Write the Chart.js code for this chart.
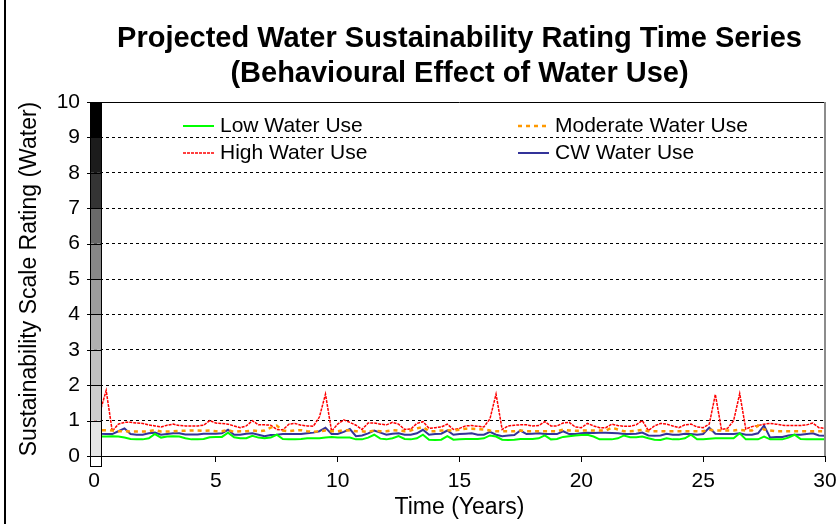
<!DOCTYPE html>
<html>
<head>
<meta charset="utf-8">
<script src="https://cdn.jsdelivr.net/npm/chart.js@4.4.0/dist/chart.umd.min.js"></script>
<style>
    body { margin: 0; background: #ffffff; }
    #wrap { width: 839px; height: 524px; }
</style>
</head>
<body>
<div id="wrap"><canvas id="waterChart" width="839" height="524"></canvas></div>
<script>
// time axis, quarter-year steps
const years = [
    0, 0.25, 0.5, 0.75, 1, 1.25, 1.5, 1.75, 2, 2.25, 2.5, 2.75, 3, 3.25, 3.5, 3.75, 4, 4.25, 4.5, 4.75, 5, 5.25, 5.5, 5.75, 6,
    6.25, 6.5, 6.75, 7, 7.25, 7.5, 7.75, 8, 8.25, 8.5, 8.75, 9, 9.25, 9.5, 9.75, 10, 10.25, 10.5, 10.75, 11, 11.25, 11.5, 11.75, 12,
    12.25, 12.5, 12.75, 13, 13.25, 13.5, 13.75, 14, 14.25, 14.5, 14.75, 15, 15.25, 15.5, 15.75, 16, 16.25, 16.5, 16.75, 17, 17.25, 17.5, 17.75, 18,
    18.25, 18.5, 18.75, 19, 19.25, 19.5, 19.75, 20, 20.25, 20.5, 20.75, 21, 21.25, 21.5, 21.75, 22, 22.25, 22.5, 22.75, 23, 23.25, 23.5, 23.75, 24,
    24.25, 24.5, 24.75, 25, 25.25, 25.5, 25.75, 26, 26.25, 26.5, 26.75, 27, 27.25, 27.5, 27.75, 28, 28.25, 28.5, 28.75, 29, 29.25, 29.5, 29.75, 30
];

const lowUse = [
    0.57, 0.55, 0.55, 0.56, 0.55, 0.52, 0.48, 0.47, 0.47, 0.50, 0.62, 0.52, 0.55, 0.56, 0.55, 0.50, 0.47, 0.47, 0.48, 0.53, 0.54, 0.54, 0.66, 0.53, 0.50,
    0.50, 0.57, 0.52, 0.50, 0.52, 0.60, 0.48, 0.47, 0.47, 0.48, 0.50, 0.50, 0.50, 0.52, 0.54, 0.52, 0.52, 0.52, 0.47, 0.47, 0.52, 0.60, 0.49, 0.47,
    0.50, 0.56, 0.48, 0.47, 0.50, 0.60, 0.46, 0.45, 0.46, 0.56, 0.46, 0.47, 0.48, 0.48, 0.48, 0.50, 0.58, 0.55, 0.46, 0.45, 0.46, 0.48, 0.48, 0.48,
    0.50, 0.58, 0.47, 0.48, 0.54, 0.56, 0.58, 0.59, 0.60, 0.55, 0.47, 0.47, 0.47, 0.50, 0.58, 0.53, 0.53, 0.55, 0.50, 0.46, 0.45, 0.50, 0.47, 0.47,
    0.50, 0.60, 0.47, 0.47, 0.49, 0.50, 0.50, 0.50, 0.50, 0.64, 0.47, 0.47, 0.47, 0.55, 0.47, 0.47, 0.47, 0.52, 0.60, 0.48, 0.47, 0.47, 0.47, 0.47
];

const moderateUse = [
    0.75, 0.73, 0.73, 0.72, 0.70, 0.70, 0.69, 0.69, 0.69, 0.70, 0.73, 0.69, 0.69, 0.70, 0.71, 0.71, 0.72, 0.72, 0.71, 0.72, 0.70, 0.70, 0.73, 0.68, 0.70,
    0.70, 0.72, 0.70, 0.72, 0.80, 0.86, 0.72, 0.70, 0.72, 0.73, 0.70, 0.68, 0.70, 0.72, 0.70, 0.70, 0.73, 0.72, 0.70, 0.70, 0.68, 0.72, 0.70, 0.70,
    0.73, 0.72, 0.70, 0.72, 0.78, 0.82, 0.70, 0.70, 0.72, 0.73, 0.72, 0.74, 0.77, 0.77, 0.76, 0.75, 0.72, 0.70, 0.70, 0.70, 0.70, 0.72, 0.70, 0.70,
    0.70, 0.70, 0.70, 0.70, 0.74, 0.72, 0.71, 0.72, 0.72, 0.72, 0.72, 0.72, 0.80, 0.75, 0.70, 0.70, 0.71, 0.74, 0.70, 0.70, 0.70, 0.70, 0.70, 0.70,
    0.70, 0.70, 0.70, 0.70, 0.74, 0.72, 0.72, 0.72, 0.72, 0.74, 0.72, 0.72, 0.86, 0.75, 0.72, 0.70, 0.70, 0.70, 0.70, 0.70, 0.70, 0.70, 0.70, 0.70
];

const highUse = [
    0.95, 1.25, 1.85, 0.70, 0.90, 0.95, 0.95, 0.93, 0.92, 0.88, 0.85, 0.82, 0.87, 0.90, 0.86, 0.85, 0.85, 0.85, 0.87, 1.00, 0.93, 0.92, 0.90, 0.85, 0.80,
    0.85, 1.00, 0.88, 0.88, 0.87, 0.75, 0.74, 0.90, 0.92, 0.87, 0.85, 0.84, 1.10, 1.75, 0.70, 0.90, 1.02, 0.95, 0.87, 0.75, 0.93, 0.93, 0.90, 0.88,
    0.95, 0.90, 0.75, 0.76, 0.92, 0.97, 0.78, 0.80, 0.82, 0.90, 0.75, 0.78, 0.85, 0.86, 0.84, 0.82, 1.05, 1.75, 0.75, 0.85, 0.87, 0.88, 0.88, 0.85,
    0.86, 0.97, 0.85, 0.85, 0.93, 0.95, 0.82, 0.80, 0.92, 0.85, 0.80, 0.80, 0.90, 0.86, 0.84, 0.84, 0.88, 1.00, 0.72, 0.85, 0.92, 0.90, 0.85, 0.80,
    0.88, 0.90, 0.82, 0.80, 0.90, 1.74, 0.75, 0.78, 1.00, 1.76, 0.76, 0.83, 0.86, 0.90, 0.92, 0.90, 0.87, 0.86, 0.86, 0.86, 0.88, 0.93, 0.80, 0.78
];

const cwUse = [
    0.68, 0.63, 0.62, 0.62, 0.70, 0.78, 0.62, 0.60, 0.60, 0.64, 0.66, 0.60, 0.62, 0.64, 0.64, 0.61, 0.61, 0.61, 0.63, 0.63, 0.63, 0.64, 0.74, 0.60, 0.60,
    0.63, 0.64, 0.60, 0.56, 0.59, 0.60, 0.62, 0.62, 0.62, 0.62, 0.64, 0.66, 0.70, 0.80, 0.62, 0.62, 0.68, 0.76, 0.56, 0.58, 0.64, 0.72, 0.66, 0.60,
    0.63, 0.64, 0.60, 0.60, 0.64, 0.74, 0.60, 0.62, 0.63, 0.72, 0.60, 0.62, 0.63, 0.64, 0.60, 0.60, 0.68, 0.60, 0.56, 0.58, 0.59, 0.72, 0.62, 0.63,
    0.64, 0.62, 0.62, 0.62, 0.70, 0.62, 0.62, 0.64, 0.66, 0.65, 0.66, 0.66, 0.65, 0.64, 0.62, 0.62, 0.63, 0.66, 0.58, 0.57, 0.58, 0.63, 0.60, 0.60,
    0.63, 0.62, 0.60, 0.62, 0.80, 0.63, 0.62, 0.62, 0.62, 0.64, 0.60, 0.60, 0.64, 0.86, 0.52, 0.54, 0.54, 0.58, 0.60, 0.60, 0.62, 0.64, 0.58, 0.57
];

// grey scale bar beside the rating axis, one colour per unit band 0-1 ... 9-10
const ratingBands = [0, 1, 2, 3, 4, 5, 6, 7, 8, 9, 10];
const bandColors = ['#e4e4e4', '#cdcdcd', '#c0c0c0', '#b0b0b0', '#9c9c9c', '#878787', '#6a6a6a', '#343434', '#1c1c1c', '#000000'];

const titleLines = ['Projected Water Sustainability Rating Time Series', '(Behavioural Effect of Water Use)'];
const FONT = "'Liberation Sans', Arial, sans-serif";

function toPoints(values) {
    return values.map((v, i) => ({ x: years[i], y: v }));
}

const titlePlugin = {
    id: 'centredTitle',
    afterDraw(chart) {
        const ctx = chart.ctx;
        const area = chart.chartArea;
        const cx = (area.left + area.right) / 2;
        ctx.save();
        ctx.fillStyle = '#000';
        ctx.font = 'bold 29px ' + FONT;
        ctx.textAlign = 'center';
        ctx.textBaseline = 'middle';
        ctx.fillText(titleLines[0], cx, 39);
        ctx.fillText(titleLines[1], cx, 74);
        ctx.restore();
    }
};

const legendPlugin = {
    id: 'insideLegend',
    afterDraw(chart) {
        const ctx = chart.ctx;
        const colX = [183, 518];
        const rowY = [126, 153];
        ctx.save();
        ctx.font = '21px ' + FONT;
        ctx.textBaseline = 'middle';
        chart.data.datasets.forEach((ds, i) => {
            const x = colX[i % 2];
            const y = rowY[Math.floor(i / 2)];
            ctx.strokeStyle = ds.borderColor;
            ctx.lineWidth = ds.borderWidth;
            ctx.setLineDash(ds.borderDash || []);
            ctx.beginPath();
            ctx.moveTo(x, y);
            ctx.lineTo(x + 31, y);
            ctx.stroke();
            ctx.setLineDash([]);
            ctx.fillStyle = '#000';
            ctx.fillText(ds.label, x + 37, y);
        });
        ctx.restore();
    }
};

const framePlugin = {
    id: 'ratingFrame',
    afterDatasetsDraw(chart) {
        const ctx = chart.ctx;
        const area = chart.chartArea;
        const xs = chart.scales.x;
        const ys = chart.scales.y;
        const barLeft = xs.getPixelForValue(0) - 4;
        const barW = 11;
        const bottom = ys.getPixelForValue(0);
        ctx.save();
        // plot frame
        ctx.strokeStyle = '#000';
        ctx.lineWidth = 1;
        ctx.beginPath();
        ctx.moveTo(area.left, area.top + 0.5);
        ctx.lineTo(area.right, area.top + 0.5);
        ctx.stroke();
        ctx.strokeStyle = '#8c8c8c';
        ctx.lineWidth = 2;
        ctx.beginPath();
        ctx.moveTo(area.right, area.top);
        ctx.lineTo(area.right, area.bottom);
        ctx.stroke();
        // grey bands
        for (let i = 0; i < bandColors.length; i++) {
            const yTop = ys.getPixelForValue(ratingBands[i + 1]);
            const yBot = ys.getPixelForValue(ratingBands[i]);
            ctx.fillStyle = bandColors[i];
            ctx.fillRect(barLeft, yTop, barW, yBot - yTop);
        }
        ctx.fillStyle = '#fff';
        ctx.fillRect(barLeft, bottom, barW, 10);
        ctx.strokeStyle = '#000';
        ctx.lineWidth = 1;
        ctx.strokeRect(barLeft + 0.5, area.top + 0.5, barW, bottom + 10 - area.top);
        // tick marks across the bar
        ratingBands.forEach(v => {
            const y = Math.round(ys.getPixelForValue(v)) + 0.5;
            ctx.beginPath();
            ctx.moveTo(barLeft - 3, y);
            ctx.lineTo(barLeft + barW + 1, y);
            ctx.stroke();
        });
        // outer left edge of the chart box
        ctx.lineWidth = 2;
        ctx.beginPath();
        ctx.moveTo(5, 0);
        ctx.lineTo(5, chart.height);
        ctx.stroke();
        ctx.restore();
    }
};

new Chart(document.getElementById('waterChart'), {
    type: 'line',
    data: {
        datasets: [
            {
                label: 'Low Water Use',
                data: toPoints(lowUse),
                borderColor: '#00ff00',
                borderWidth: 2,
                pointRadius: 0,
                tension: 0
            },
            {
                label: 'Moderate Water Use',
                data: toPoints(moderateUse),
                borderColor: '#ff9900',
                borderWidth: 2.5,
                borderDash: [4, 4],
                pointRadius: 0,
                tension: 0
            },
            {
                label: 'High Water Use',
                data: toPoints(highUse),
                borderColor: '#ff0000',
                borderWidth: 1.5,
                borderDash: [3, 1],
                pointRadius: 0,
                tension: 0
            },
            {
                label: 'CW Water Use',
                data: toPoints(cwUse),
                borderColor: '#333399',
                borderWidth: 2,
                pointRadius: 0,
                tension: 0
            }
        ]
    },
    options: {
        responsive: false,
        animation: false,
        layout: {
            padding: { top: 102, right: 14, left: 0, bottom: 0 }
        },
        plugins: {
            legend: { display: false },
            title: { display: false },
            tooltip: { enabled: false }
        },
        scales: {
            x: {
                type: 'linear',
                min: 0,
                max: 30,
                ticks: {
                    stepSize: 5,
                    color: '#000',
                    font: { family: FONT, size: 21 },
                    padding: 7,
                    maxRotation: 0
                },
                grid: {
                    drawOnChartArea: false,
                    drawTicks: true,
                    tickLength: 6,
                    color: '#000'
                },
                border: { display: true, color: '#000', width: 1 },
                title: {
                    display: true,
                    text: 'Time (Years)',
                    color: '#000',
                    font: { family: FONT, size: 23 },
                    padding: { top: 0, bottom: 3 }
                },
                afterFit(scale) {
                    scale.height = 68;
                    scale.paddingLeft = 0;
                    scale.paddingRight = 0;
                }
            },
            y: {
                min: 0,
                max: 10,
                ticks: {
                    stepSize: 1,
                    color: '#000',
                    font: { family: FONT, size: 21 },
                    padding: 14
                },
                grid: {
                    drawTicks: false,
                    color: '#000',
                    lineWidth: 1
                },
                border: { display: false, dash: [3, 3] },
                title: {
                    display: true,
                    text: 'Sustainability Scale Rating (Water)',
                    color: '#000',
                    font: { family: FONT, size: 23 },
                    padding: { top: 16, bottom: 0 }
                },
                afterFit(scale) {
                    scale.width = 94;
                    scale.paddingTop = 0;
                    scale.paddingBottom = 0;
                }
            }
        }
    },
    plugins: [framePlugin, titlePlugin, legendPlugin]
});
</script>
</body>
</html>
